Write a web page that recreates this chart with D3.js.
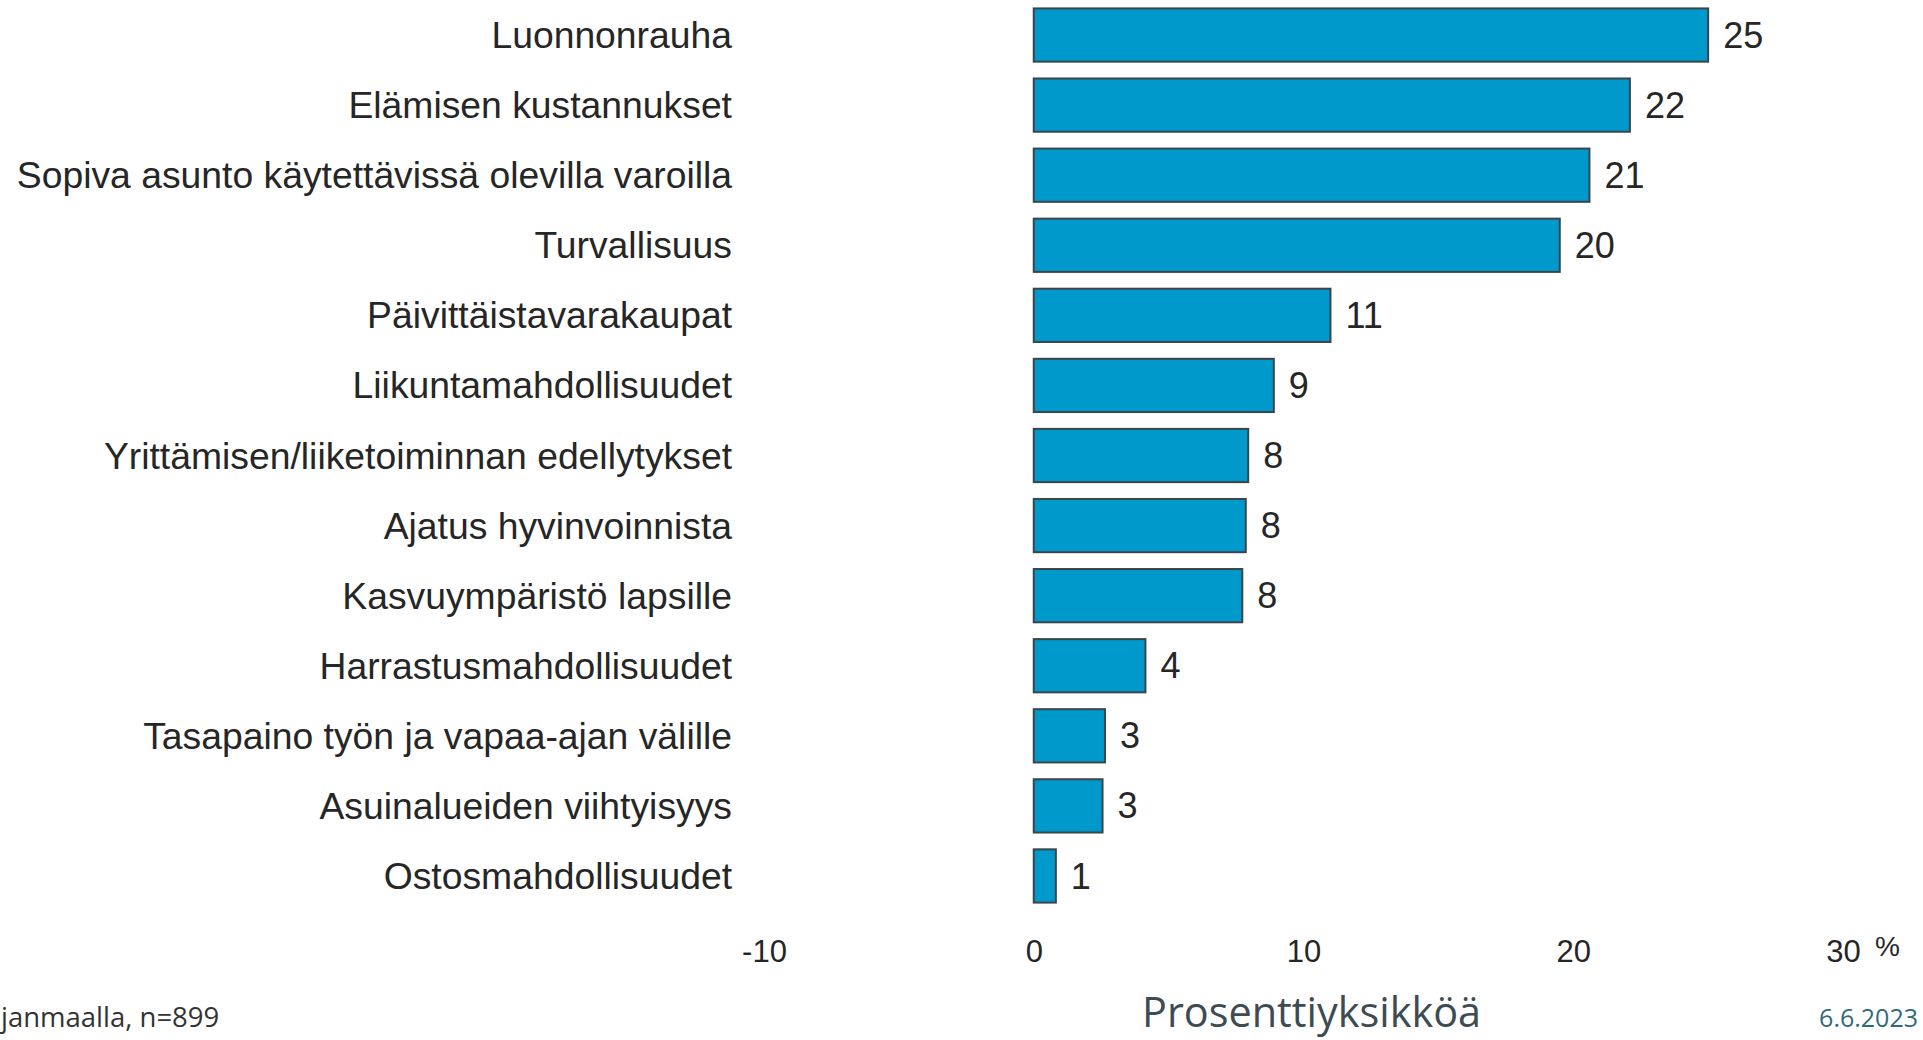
<!DOCTYPE html>
<html lang="fi">
<head>
    <meta charset="utf-8">
    <script src="https://cdn.jsdelivr.net/npm/d3@7"></script>
    <style>
        body {
            margin: 0;
            background: white;
        }

        .bar {
            fill: #0099cc;
            stroke: #3b4549;
            stroke-width: 2px;
        }

        .cat, .val, .tick text, .pct {
            font-family: "Liberation Sans", Arial, sans-serif;
            fill: #262626;
        }

        .foot {
            font-family: "Open Sans", sans-serif;
        }
    </style>
</head>
<body>

<script>
    // aineisto
    const categories = [
        'Luonnonrauha',
        'Elämisen kustannukset',
        'Sopiva asunto käytettävissä olevilla varoilla',
        'Turvallisuus',
        'Päivittäistavarakaupat',
        'Liikuntamahdollisuudet',
        'Yrittämisen/liiketoiminnan edellytykset',
        'Ajatus hyvinvoinnista',
        'Kasvuympäristö lapsille',
        'Harrastusmahdollisuudet',
        'Tasapaino työn ja vapaa-ajan välille',
        'Asuinalueiden viihtyisyys',
        'Ostosmahdollisuudet'
    ];
    const values = [25.0, 22.1, 20.6, 19.5, 11.0, 8.9, 7.95, 7.86, 7.73, 4.14, 2.64, 2.55, 0.82];
    const ticks = [-10, 0, 10, 20, 30];

    const width = 1923, height = 1040;

    let svg = d3.select('body').append('svg')
        .attr('width', width).attr('height', height);

    let x = d3.scaleLinear().domain([-10, 30]).range([764, 1843]);
    let y = d3.scaleBand().domain(categories).range([0, 911])
        .paddingInner(0.24).paddingOuter(0.12);

    let rows = categories.map((c, i) => ({cat: c, v: values[i]}));

    svg.append('g').selectAll('rect')
        .data(rows)
        .join('rect')
        .attr('class', 'bar')
        .attr('x', x(0))
        .attr('y', d => y(d.cat))
        .attr('width', d => x(d.v) - x(0))
        .attr('height', y.bandwidth());

    // kategoriat
    svg.append('g').selectAll('text')
        .data(rows)
        .join('text')
        .attr('class', 'cat')
        .attr('x', 732)
        .attr('y', d => y(d.cat) + y.bandwidth() / 2)
        .attr('dy', '0.35em')
        .attr('text-anchor', 'end')
        .style('font-size', '37.3px')
        .text(d => d.cat);

    // arvot
    svg.append('g').selectAll('text')
        .data(rows)
        .join('text')
        .attr('class', 'val')
        .attr('x', d => x(d.v) + 15)
        .attr('y', d => y(d.cat) + y.bandwidth() / 2)
        .attr('dy', '0.35em')
        .style('font-size', '36px')
        .text(d => Math.round(d.v));

    // x-akseli
    let axis = svg.append('g')
        .attr('transform', 'translate(0,962)')
        .call(d3.axisBottom(x).tickValues(ticks).tickSize(0).tickFormat(d => String(d)));
    axis.select('.domain').remove();
    axis.selectAll('.tick text')
        .attr('y', 0).attr('dy', 0)
        .style('font-size', '31px');

    svg.append('text')
        .attr('class', 'pct')
        .attr('x', x(30) + 32)
        .attr('y', 956)
        .style('font-size', '28px')
        .text('%');

    // alateksti
    svg.append('text')
        .attr('class', 'foot')
        .attr('x', 1142).attr('y', 1027)
        .style('font-size', '41.4px')
        .style('fill', '#3d4b53')
        .text('Prosenttiyksikköä');

    svg.append('text')
        .attr('class', 'foot')
        .attr('x', 1918).attr('y', 1027)
        .attr('text-anchor', 'end')
        .style('font-size', '25px')
        .style('fill', '#2f6b79')
        .text('6.6.2023');

    svg.append('text')
        .attr('class', 'foot')
        .attr('x', 1).attr('y', 1027)
        .style('font-size', '27.5px')
        .style('fill', '#333333')
        .text('janmaalla, n=899');
</script>
</body>
</html>
